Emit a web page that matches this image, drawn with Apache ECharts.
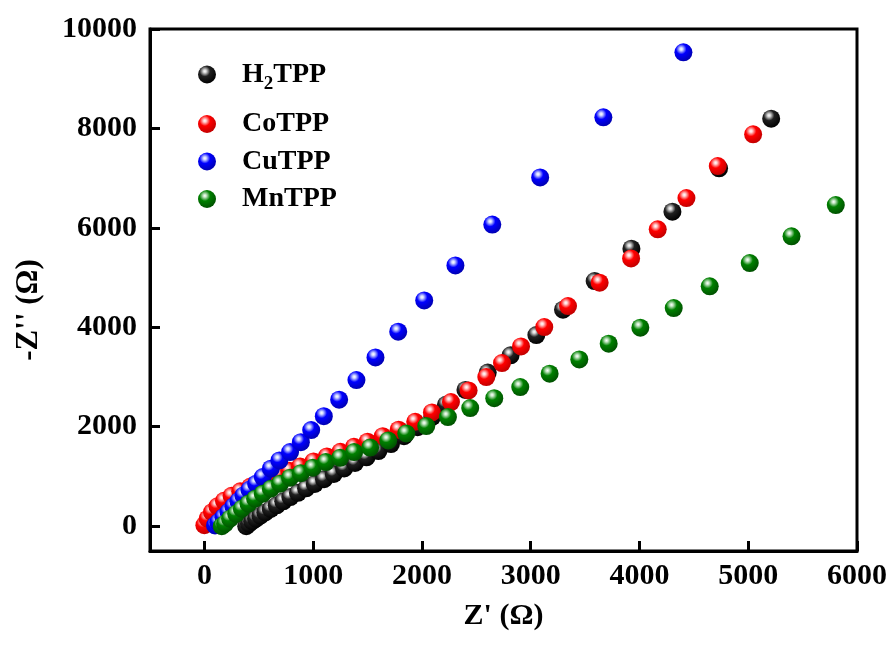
<!DOCTYPE html>
<html>
<head>
<meta charset="utf-8">
<script src="https://cdn.jsdelivr.net/npm/echarts@6/dist/echarts.min.js"></script>
<style>
  html, body { margin: 0; padding: 0; background: #fff; }
  #chart { width: 893px; height: 648px; }
</style>
</head>
<body>
<div id="chart"></div>
<script>
// Nyquist data: [Z' (Ω), -Z'' (Ω)]
const h2tpp = [
  [385,0],[410,50],[440,100],[475,150],[515,210],[560,275],[610,345],[665,420],
  [725,500],[790,585],[860,670],[935,760],[1015,850],[1100,945],[1190,1050],
  [1285,1160],[1385,1270],[1490,1385],[1600,1510],[1715,1650],[1835,1810],
  [1960,1990],[2095,2200],[2220,2440],[2400,2740],[2605,3090],[2815,3435],
  [3052,3843],[3297,4354],[3588,4929],[3926,5581],[4303,6326],[4732,7197],[5211,8197]
];
const cotpp = [
  [0,20],[30,150],[70,280],[120,400],[180,510],[250,610],[330,700],[420,790],
  [510,870],[600,950],[690,1035],[780,1115],[880,1201],[1003,1302],[1126,1402],
  [1250,1495],[1375,1595],[1500,1700],[1640,1810],[1786,1940],[1938,2100],
  [2092,2288],[2267,2495],[2429,2730],[2592,2998],[2736,3280],[2911,3616],
  [3125,4004],[3343,4426],[3634,4897],[3923,5386],[4168,5970],[4432,6599],
  [4720,7243],[5045,7881]
];
const cutpp = [
  [98,14],[129,80],[175,181],[221,282],[267,396],[313,503],[359,618],[414,732],
  [476,853],[537,986],[611,1155],[690,1322],[788,1489],[887,1690],[982,1932],
  [1098,2213],[1239,2543],[1398,2938],[1573,3394],[1782,3911],[2021,4541],
  [2308,5245],[2647,6066],[3087,7015],[3668,8223],[4404,9531]
];
const mntpp = [
  [160,0],[190,48],[236,149],[292,249],[344,350],[405,451],[466,551],[537,652],
  [611,752],[696,853],[788,974],[887,1066],[997,1175],[1117,1288],[1248,1375],
  [1377,1489],[1524,1580],[1690,1724],[1856,1865],[2040,2012],[2239,2193],
  [2444,2374],[2665,2575],[2904,2797],[3174,3066],[3447,3354],[3717,3670],
  [4008,3992],[4315,4386],[4646,4823],[5014,5292],[5398,5829],[5805,6459]
];

const seriesNames = ['H2TPP', 'CoTPP', 'CuTPP', 'MnTPP'];
const seriesData = [h2tpp, cotpp, cutpp, mntpp];
const xTicks = [0, 1000, 2000, 3000, 4000, 5000, 6000];
const yTicks = [0, 2000, 4000, 6000, 8000, 10000];

// shaded-sphere fills: highlight, body colour, rim
const ballShades = [
  ['#d8d8d8', '#202020', '#000000'],
  ['#ffd0d0', '#ff0000', '#c00000'],
  ['#d0d8ff', '#0000ff', '#0000b0'],
  ['#c8e8c8', '#008000', '#005000']
];

function ball(shade) {
  return {
    type: 'radial', x: 0.38, y: 0.32, r: 0.7,
    colorStops: [
      { offset: 0, color: '#ffffff' },
      { offset: 0.12, color: shade[0] },
      { offset: 0.42, color: shade[1] },
      { offset: 1, color: shade[2] }
    ]
  };
}

const FONT = '"Liberation Serif", "Times New Roman", serif';
const plain = function (v) { return String(v); };

const legendText = {
  color: '#000', fontFamily: FONT, fontWeight: 'bold', fontSize: 28,
  rich: {
    a: { color: '#000', fontFamily: FONT, fontWeight: 'bold', fontSize: 28, lineHeight: 28 },
    s: { color: '#000', fontFamily: FONT, fontWeight: 'bold', fontSize: 19, lineHeight: 28, padding: [20, 0, 0, 0] }
  }
};
function legendLabel(name) {
  // subscript 2 in H2TPP
  if (name === 'H2TPP') return '{a|H}{s|2}{a|TPP}';
  return '{a|' + name + '}';
}
function legendBlock(names, top) {
  return {
    orient: 'vertical', left: 193, top: top,
    itemWidth: 60, itemHeight: 18, itemGap: 9.5,
    icon: 'circle', data: names,
    formatter: legendLabel, textStyle: legendText,
    selectedMode: false
  };
}

const chart = echarts.init(document.getElementById('chart'), null, { renderer: 'canvas' });

chart.setOption({
  backgroundColor: '#ffffff',
  animation: false,
  grid: {
    left: 150, right: 36, top: 29, bottom: 97,
    show: true, borderColor: '#000', borderWidth: 3
  },
  legend: [
    legendBlock(['H2TPP'], 50),
    legendBlock(['CoTPP', 'CuTPP', 'MnTPP'], 105)
  ],
  xAxis: {
    type: 'value', min: -500, max: 6000,
    name: "Z' (Ω)", nameLocation: 'middle', nameGap: 50,
    nameTextStyle: { color: '#000', fontFamily: FONT, fontWeight: 'bold', fontSize: 30 },
    axisLine: { show: true, onZero: false, lineStyle: { color: '#000', width: 3 } },
    axisTick: { show: true, inside: true, length: 10, customValues: xTicks, lineStyle: { color: '#000', width: 3 } },
    axisLabel: { customValues: xTicks, formatter: plain, margin: 10, color: '#000', fontFamily: FONT, fontWeight: 'bold', fontSize: 30 },
    splitLine: { show: false }
  },
  yAxis: {
    type: 'value', min: -500, max: 10000,
    name: "-Z'' (Ω)", nameLocation: 'middle', nameGap: 106,
    nameTextStyle: { color: '#000', fontFamily: FONT, fontWeight: 'bold', fontSize: 31, padding: [0, 40, 0, 0] },
    axisLine: { show: true, onZero: false, lineStyle: { color: '#000', width: 3 } },
    axisTick: { show: true, inside: true, length: 10, customValues: yTicks, lineStyle: { color: '#000', width: 3 } },
    axisLabel: { customValues: yTicks, formatter: plain, margin: 13, color: '#000', fontFamily: FONT, fontWeight: 'bold', fontSize: 30 },
    splitLine: { show: false }
  },
  series: seriesNames.map(function (name, i) {
    return {
      name: name,
      type: 'scatter',
      symbol: 'circle',
      symbolSize: 18,
      data: seriesData[i],
      itemStyle: { color: ball(ballShades[i]), opacity: 1 },
      emphasis: { disabled: true }
    };
  })
});
</script>
</body>
</html>
